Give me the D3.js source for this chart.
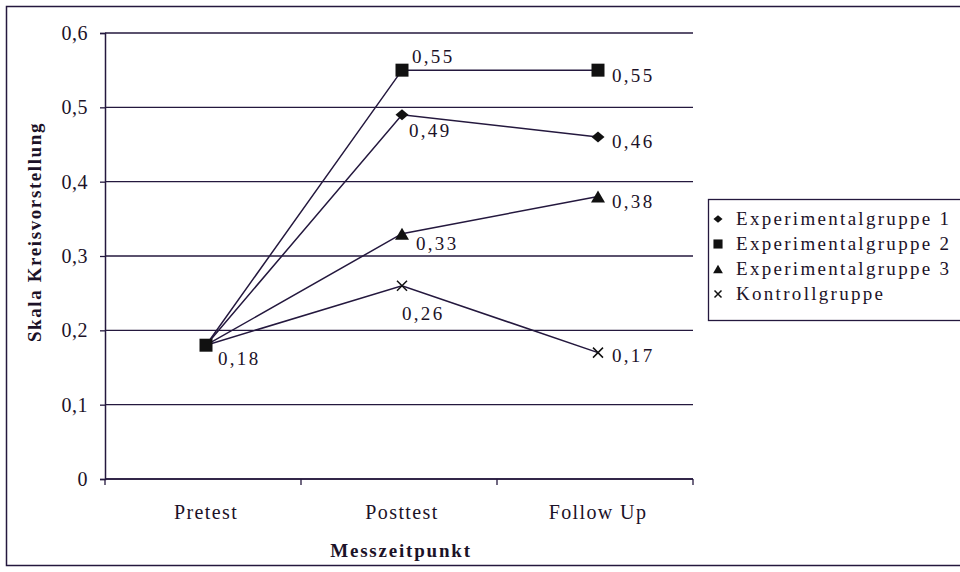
<!DOCTYPE html>
<html>
<head>
<meta charset="utf-8">
<script src="https://cdn.jsdelivr.net/npm/d3@7"></script>
<style>
  body { margin: 0; background: #fff; }
  svg { display: block; font-family: "Liberation Serif", "DejaVu Serif", serif; }
</style>
</head>
<body>
<div id="chart"></div>
<script>
// categories on the x axis
const timepoints = ["Pretest", "Posttest", "Follow Up"];

// series names (legend order)
const groups = ["Experimentalgruppe 1", "Experimentalgruppe 2", "Experimentalgruppe 3", "Kontrollgruppe"];

// values per series
const exp1 = [0.18, 0.49, 0.46];
const exp2 = [0.18, 0.55, 0.55];
const exp3 = [0.18, 0.33, 0.38];
const kontroll = [0.18, 0.26, 0.17];

// y tick values
const yTicks = [0, 0.1, 0.2, 0.3, 0.4, 0.5, 0.6];

const seriesValues = [exp1, exp2, exp3, kontroll];
const markerTypes = ["diamond", "square", "triangle", "x"];

// label offsets (dx, dy) for each data label; null = no label
const labelOffsets = [
    [null, [7, 22], [14, 11]],
    [[12, 20], [10, -7], [14, 12]],
    [null, [14, 16], [14, 11]],
    [null, [0, 34], [14, 9]]
];

const width = 960, height = 572;
const margin = { top: 33, left: 105, right: 267, bottom: 93 };
const inkColor = "#24183e";
const textColor = "#1c1228";

const svg = d3.select("#chart").append("svg")
    .attr("width", width)
    .attr("height", height);

// outer frame
svg.append("rect")
    .attr("x", 6.5).attr("y", 6.5)
    .attr("width", 980).attr("height", 559)
    .attr("fill", "none")
    .attr("stroke", inkColor)
    .attr("stroke-width", 1.5);

const x = d3.scaleBand()
    .domain(timepoints)
    .range([margin.left, width - margin.right])
    .padding(0);

const y = d3.scaleLinear()
    .domain([0, 0.6])
    .range([height - margin.bottom, margin.top]);

const fmt = v => d3.format(".2~f")(v).replace(".", ",");
const fmtTick = v => v === 0 ? "0" : d3.format(".1f")(v).replace(".", ",");

// gridlines
svg.append("g")
    .selectAll("line")
    .data(yTicks)
    .join("line")
    .attr("x1", margin.left)
    .attr("x2", width - margin.right)
    .attr("y1", d => y(d))
    .attr("y2", d => y(d))
    .attr("stroke", inkColor)
    .attr("stroke-width", 1.3);

// y axis
const yAxis = svg.append("g")
    .attr("transform", `translate(${margin.left},0)`)
    .call(d3.axisLeft(y).tickValues(yTicks).tickFormat(fmtTick).tickSize(5).tickPadding(12));
yAxis.select(".domain").attr("stroke", inkColor).attr("stroke-width", 1.5);
yAxis.selectAll(".tick line").attr("stroke", inkColor).attr("stroke-width", 1.3);
yAxis.selectAll(".tick text")
    .attr("fill", textColor)
    .style("font-size", "20px")
    .style("letter-spacing", "0.5px")
    .style("font-family", "Liberation Serif, serif");

// x axis (ticks at band edges)
const xAxisY = y(0);
const xg = svg.append("g");
xg.append("line")
    .attr("x1", margin.left).attr("x2", width - margin.right)
    .attr("y1", xAxisY).attr("y2", xAxisY)
    .attr("stroke", inkColor).attr("stroke-width", 1.5);
const edges = timepoints.map(t => x(t)).concat([x(timepoints[timepoints.length - 1]) + x.bandwidth()]);
xg.selectAll(".edge")
    .data(edges)
    .join("line")
    .attr("x1", d => d).attr("x2", d => d)
    .attr("y1", xAxisY).attr("y2", xAxisY + 6)
    .attr("stroke", inkColor).attr("stroke-width", 1.3);
xg.selectAll("text")
    .data(timepoints)
    .join("text")
    .attr("x", d => x(d) + x.bandwidth() / 2 + 3)
    .attr("y", xAxisY + 40)
    .attr("text-anchor", "middle")
    .attr("fill", textColor)
    .style("font-size", "20px")
    .style("letter-spacing", "1.4px")
    .text(d => d);

// axis titles
svg.append("text")
    .attr("transform", `translate(41, 232) rotate(-90)`)
    .attr("text-anchor", "middle")
    .attr("fill", textColor)
    .style("font-size", "19px")
    .style("font-weight", "bold")
    .style("letter-spacing", "1.6px")
    .text("Skala Kreisvorstellung");

svg.append("text")
    .attr("x", 401)
    .attr("y", 557)
    .attr("text-anchor", "middle")
    .attr("fill", textColor)
    .style("font-size", "19px")
    .style("font-weight", "bold")
    .style("letter-spacing", "1.8px")
    .text("Messzeitpunkt");

const cx = t => x(t) + x.bandwidth() / 2 + 3;

// lines
const line = d3.line()
    .x((d, i) => cx(timepoints[i]))
    .y(d => y(d));

svg.append("g")
    .selectAll("path")
    .data(seriesValues)
    .join("path")
    .attr("d", d => line(d))
    .attr("fill", "none")
    .attr("stroke", inkColor)
    .attr("stroke-width", 1.5);

// markers
const drawMarker = (g, type, px, py, scale) => {
    let d;
    if (type === "x") {
        const s = 5 * scale;
        g.append("path")
            .attr("d", `M${px - s},${py - s}L${px + s},${py + s}M${px - s},${py + s}L${px + s},${py - s}`)
            .attr("stroke", "#111")
            .attr("stroke-width", 1.5)
            .attr("fill", "none");
        return;
    } else if (type === "square") {
        const s = 6.5 * scale;
        d = `M${px - s},${py - s}H${px + s}V${py + s}H${px - s}Z`;
    } else if (type === "diamond") {
        const w = 6.5 * scale, h = 5.5 * scale;
        d = `M${px - w},${py}L${px},${py - h}L${px + w},${py}L${px},${py + h}Z`;
    } else {
        const w = 7 * scale, h = 6 * scale;
        d = `M${px - w},${py + h}L${px},${py - h}L${px + w},${py + h}Z`;
    }
    g.append("path").attr("d", d).attr("fill", "#111");
};

const markers = svg.append("g");
seriesValues.forEach((vals, si) => {
    vals.forEach((v, i) => {
        if (i === 0 && si !== 1) return; // pretest: only the square is visible on top
        drawMarker(markers, markerTypes[si], cx(timepoints[i]), y(v), 1);
    });
});

// data labels
const labels = svg.append("g");
seriesValues.forEach((vals, si) => {
    vals.forEach((v, i) => {
        const off = labelOffsets[si][i];
        if (!off) return;
        labels.append("text")
            .attr("x", cx(timepoints[i]) + off[0])
            .attr("y", y(v) + off[1])
            .attr("fill", textColor)
            .style("font-size", "19px")
            .style("letter-spacing", "2.3px")
            .text(fmt(v));
    });
});

// legend
const legend = svg.append("g").attr("transform", "translate(708, 199)");
legend.append("rect")
    .attr("x", 0.5).attr("y", 0.5)
    .attr("width", 300).attr("height", 121)
    .attr("fill", "#fff")
    .attr("stroke", inkColor)
    .attr("stroke-width", 1.3);
groups.forEach((name, i) => {
    const rowY = 26 + i * 25;
    drawMarker(legend, markerTypes[i], 10, rowY - 6, 0.7);
    legend.append("text")
        .attr("x", 28)
        .attr("y", rowY)
        .attr("fill", textColor)
        .style("font-size", "19px")
        .style("letter-spacing", "2.3px")
        .text(name);
});
</script>
</body>
</html>
